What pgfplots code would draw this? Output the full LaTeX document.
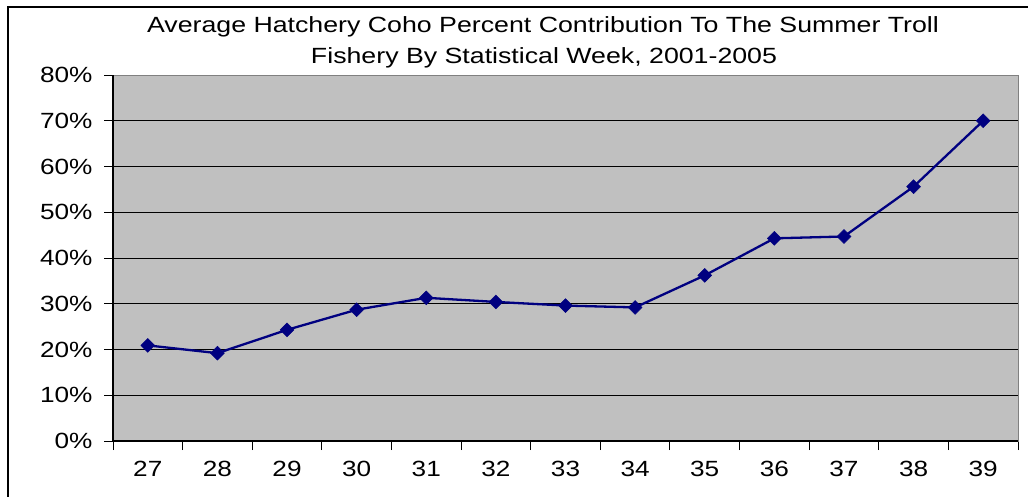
\documentclass[border=0pt]{standalone}
\usepackage{fontspec}
\setmainfont{Liberation Sans}[FakeStretch=1.19]
\newfontfamily\titlefont{Liberation Sans}[FakeStretch=1.215]
\usepackage{pgfplots}
\pgfplotsset{compat=1.18}
\definecolor{plotgray}{HTML}{C0C0C0}
\definecolor{navyline}{HTML}{000080}
\definecolor{edgegray}{HTML}{808080}
\begin{document}
\begin{tikzpicture}
\useasboundingbox (0pt,0pt) rectangle (1028pt,496pt);
\fill[white] (0pt,0pt) rectangle (1028pt,496pt);
\draw[line width=2.2pt] (8pt,-5pt) -- (8pt,489pt) -- (1040pt,489pt);
\node[font=\titlefont\fontsize{22}{26}\selectfont] at (543pt,469pt) {Average Hatchery Coho Percent Contribution To The Summer Troll};
\node[font=\titlefont\fontsize{22}{26}\selectfont] at (544pt,438pt) {Fishery By Statistical Week, 2001-2005};
\begin{axis}[
  at={(113pt,55pt)}, anchor=south west,
  scale only axis, width=905pt, height=366pt,
  xmin=0.5, xmax=13.5, ymin=0, ymax=80,
  axis background/.style={fill=plotgray},
  axis line style={draw=edgegray, line width=1pt},
  tick pos=left,
  xtick={0.5,1.5,...,13.5},
  xticklabels={},
  extra x ticks={1,...,13},
  extra x tick labels={27,28,29,30,31,32,33,34,35,36,37,38,39},
  extra x tick style={major tick length=0pt, tick style={draw=none},
    xticklabel style={yshift=-17pt}},
  ytick={0,10,...,80},
  yticklabels={0\%,10\%,20\%,30\%,40\%,50\%,60\%,70\%,80\%},
  tick align=outside,
  major tick length=9pt,
  tick style={black, line width=0.9pt},
  ymajorgrids,
  grid style={black, line width=1pt},
  tick label style={font=\fontsize{22}{26}\selectfont},
  yticklabel style={xshift=-8pt},
  clip=false,
]
\addplot[color=navyline, line width=2.3pt, mark=square*, mark size=4.9pt,
  mark options={rotate=45, fill=navyline, draw=navyline, line width=0.5pt}]
  coordinates {
  (1,20.9) (2,19.2) (3,24.3) (4,28.7) (5,31.3) (6,30.4) (7,29.6)
  (8,29.2) (9,36.2) (10,44.3) (11,44.7) (12,55.6) (13,70.0)
  };
\draw[black, line width=1.4pt] (rel axis cs:0,1) -- (rel axis cs:0,0) -- (rel axis cs:1,0);
\end{axis}
\end{tikzpicture}
\end{document}
